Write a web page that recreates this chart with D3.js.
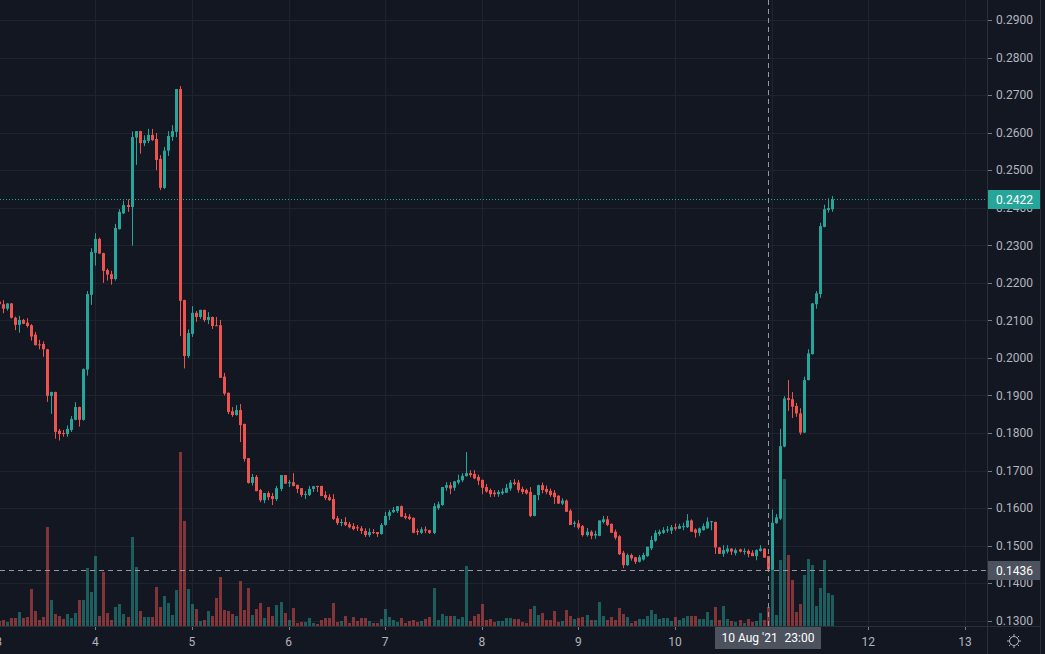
<!DOCTYPE html>
<html>
<head>
<meta charset="utf-8">
<script src="https://cdn.jsdelivr.net/npm/d3@7"></script>
<style>
  html, body { margin: 0; padding: 0; background: #131722; overflow: hidden; }
  svg { display: block; }
</style>
</head>
<body>
<svg id="chart" width="1045" height="654"></svg>
<script>
// hourly candles, 3 Aug 2021 00:00 UTC onwards
const opens = [
  0.2150,0.2143,0.2131,0.2145,0.2107,0.2088,0.2101,0.2094,0.2087,0.2062,0.2036,0.2037,0.2023,0.1899,0.1909,0.1806,0.1800,0.1797,0.1808,0.1835,
  0.1869,0.1835,0.1969,0.2168,0.2280,0.2317,0.2279,0.2234,0.2223,0.2210,0.2343,0.2385,0.2407,0.2402,0.2587,0.2604,0.2572,0.2578,0.2594,0.2583,
  0.2530,0.2453,0.2552,0.2589,0.2602,0.2716,0.2154,0.2005,0.2064,0.2120,0.2109,0.2128,0.2101,0.2109,0.2087,0.2087,0.1950,0.1907,0.1858,0.1848,
  0.1861,0.1824,0.1733,0.1667,0.1683,0.1648,0.1621,0.1640,0.1632,0.1624,0.1651,0.1688,0.1666,0.1669,0.1662,0.1653,0.1636,0.1635,0.1651,0.1659,
  0.1659,0.1635,0.1629,0.1624,0.1573,0.1560,0.1563,0.1557,0.1552,0.1549,0.1546,0.1539,0.1528,0.1536,0.1536,0.1531,0.1555,0.1579,0.1589,0.1592,
  0.1605,0.1579,0.1577,0.1574,0.1539,0.1534,0.1543,0.1541,0.1534,0.1600,0.1608,0.1654,0.1661,0.1654,0.1668,0.1674,0.1685,0.1693,0.1691,0.1683,
  0.1675,0.1656,0.1648,0.1641,0.1637,0.1639,0.1641,0.1652,0.1668,0.1668,0.1651,0.1648,0.1643,0.1579,0.1635,0.1661,0.1651,0.1646,0.1641,0.1633,
  0.1612,0.1620,0.1593,0.1558,0.1559,0.1552,0.1528,0.1537,0.1527,0.1526,0.1563,0.1570,0.1558,0.1537,0.1525,0.1481,0.1448,0.1475,0.1469,0.1457,
  0.1463,0.1472,0.1493,0.1513,0.1531,0.1534,0.1540,0.1540,0.1549,0.1545,0.1549,0.1549,0.1567,0.1543,0.1534,0.1541,0.1546,0.1563,0.1563,0.1495,
  0.1478,0.1484,0.1492,0.1480,0.1490,0.1485,0.1486,0.1481,0.1472,0.1486,0.1492,0.1472,0.1436,0.1560,0.1572,0.1764,0.1893,0.1890,0.1872,0.1852,
  0.1801,0.1941,0.2010,0.2143,0.2170,0.2349,0.2394,0.2396
];
const highs = [
  0.2155,0.2154,0.2146,0.2146,0.2110,0.2112,0.2104,0.2106,0.2090,0.2069,0.2048,0.2044,0.2024,0.1910,0.1910,0.1811,0.1808,0.1820,0.1845,0.1882,
  0.1870,0.1972,0.2178,0.2292,0.2332,0.2320,0.2280,0.2238,0.2232,0.2357,0.2396,0.2419,0.2422,0.2603,0.2604,0.2605,0.2593,0.2610,0.2610,0.2599,
  0.2540,0.2562,0.2604,0.2620,0.2716,0.2724,0.2155,0.2076,0.2138,0.2125,0.2128,0.2128,0.2122,0.2110,0.2109,0.2101,0.1960,0.1908,0.1869,0.1874,
  0.1877,0.1825,0.1733,0.1691,0.1688,0.1651,0.1640,0.1645,0.1640,0.1659,0.1688,0.1688,0.1675,0.1693,0.1662,0.1653,0.1645,0.1659,0.1659,0.1659,
  0.1659,0.1645,0.1637,0.1637,0.1579,0.1571,0.1576,0.1563,0.1560,0.1555,0.1552,0.1546,0.1546,0.1544,0.1536,0.1560,0.1590,0.1595,0.1603,0.1605,
  0.1607,0.1587,0.1584,0.1575,0.1545,0.1549,0.1551,0.1542,0.1613,0.1617,0.1656,0.1669,0.1669,0.1672,0.1689,0.1693,0.1749,0.1701,0.1701,0.1689,
  0.1676,0.1664,0.1652,0.1648,0.1648,0.1652,0.1664,0.1675,0.1677,0.1675,0.1657,0.1652,0.1656,0.1635,0.1662,0.1668,0.1660,0.1652,0.1648,0.1634,
  0.1626,0.1623,0.1597,0.1566,0.1568,0.1555,0.1547,0.1541,0.1540,0.1567,0.1579,0.1579,0.1559,0.1543,0.1528,0.1486,0.1479,0.1479,0.1470,0.1475,
  0.1481,0.1497,0.1526,0.1541,0.1543,0.1549,0.1552,0.1555,0.1559,0.1558,0.1561,0.1584,0.1570,0.1546,0.1548,0.1559,0.1575,0.1566,0.1564,0.1496,
  0.1501,0.1501,0.1493,0.1493,0.1492,0.1493,0.1490,0.1488,0.1490,0.1501,0.1493,0.1473,0.1596,0.1584,0.1811,0.1898,0.1941,0.1909,0.1880,0.1866,
  0.1950,0.2023,0.2146,0.2178,0.2360,0.2408,0.2425,0.2431
];
const lows = [
  0.2138,0.2119,0.2126,0.2105,0.2074,0.2067,0.2090,0.2081,0.2046,0.2033,0.2023,0.2003,0.1883,0.1851,0.1785,0.1780,0.1790,0.1790,0.1803,0.1834,
  0.1817,0.1833,0.1953,0.2141,0.2246,0.2277,0.2200,0.2206,0.2195,0.2206,0.2342,0.2383,0.2389,0.2299,0.2514,0.2544,0.2564,0.2572,0.2578,0.2500,
  0.2447,0.2450,0.2538,0.2578,0.2588,0.2058,0.1972,0.2000,0.2056,0.2096,0.2104,0.2096,0.2090,0.2077,0.2085,0.1947,0.1900,0.1850,0.1843,0.1846,
  0.1776,0.1724,0.1665,0.1660,0.1645,0.1616,0.1613,0.1621,0.1608,0.1619,0.1645,0.1665,0.1656,0.1658,0.1640,0.1630,0.1624,0.1632,0.1643,0.1643,
  0.1632,0.1621,0.1619,0.1568,0.1555,0.1552,0.1552,0.1546,0.1541,0.1539,0.1531,0.1523,0.1523,0.1531,0.1523,0.1529,0.1553,0.1568,0.1587,0.1587,
  0.1576,0.1570,0.1568,0.1533,0.1528,0.1531,0.1533,0.1531,0.1531,0.1595,0.1606,0.1646,0.1637,0.1646,0.1663,0.1669,0.1684,0.1682,0.1677,0.1661,
  0.1637,0.1641,0.1629,0.1630,0.1630,0.1635,0.1640,0.1646,0.1661,0.1641,0.1637,0.1636,0.1576,0.1578,0.1621,0.1639,0.1637,0.1630,0.1611,0.1611,
  0.1608,0.1590,0.1555,0.1549,0.1543,0.1524,0.1524,0.1517,0.1518,0.1525,0.1559,0.1552,0.1534,0.1516,0.1475,0.1440,0.1446,0.1460,0.1451,0.1455,
  0.1460,0.1470,0.1488,0.1510,0.1526,0.1531,0.1534,0.1531,0.1540,0.1544,0.1541,0.1547,0.1537,0.1521,0.1525,0.1540,0.1545,0.1541,0.1478,0.1478,
  0.1470,0.1479,0.1475,0.1474,0.1482,0.1476,0.1469,0.1472,0.1461,0.1484,0.1468,0.1436,0.1435,0.1558,0.1568,0.1762,0.1859,0.1840,0.1843,0.1795,
  0.1800,0.1940,0.2009,0.2131,0.2160,0.2348,0.2387,0.2389
];
const closes = [
  0.2143,0.2131,0.2145,0.2107,0.2088,0.2101,0.2091,0.2085,0.2057,0.2034,0.2035,0.2023,0.1899,0.1909,0.1803,0.1797,0.1799,0.1811,0.1837,0.1869,
  0.1835,0.1970,0.2170,0.2282,0.2317,0.2278,0.2232,0.2222,0.2210,0.2346,0.2389,0.2407,0.2402,0.2588,0.2604,0.2572,0.2580,0.2594,0.2580,0.2527,
  0.2453,0.2552,0.2591,0.2604,0.2716,0.2152,0.2005,0.2066,0.2120,0.2109,0.2128,0.2101,0.2109,0.2085,0.2086,0.1947,0.1905,0.1856,0.1848,0.1861,
  0.1821,0.1731,0.1667,0.1683,0.1645,0.1621,0.1640,0.1629,0.1624,0.1653,0.1688,0.1665,0.1669,0.1659,0.1651,0.1635,0.1638,0.1651,0.1658,0.1656,
  0.1632,0.1627,0.1621,0.1571,0.1560,0.1563,0.1555,0.1549,0.1544,0.1546,0.1539,0.1528,0.1536,0.1534,0.1531,0.1555,0.1579,0.1589,0.1595,0.1605,
  0.1577,0.1574,0.1571,0.1534,0.1536,0.1543,0.1540,0.1534,0.1605,0.1610,0.1656,0.1661,0.1652,0.1671,0.1675,0.1686,0.1693,0.1688,0.1679,0.1673,
  0.1654,0.1644,0.1637,0.1637,0.1643,0.1644,0.1654,0.1668,0.1664,0.1648,0.1643,0.1639,0.1579,0.1635,0.1661,0.1648,0.1643,0.1635,0.1629,0.1612,
  0.1620,0.1590,0.1555,0.1561,0.1548,0.1528,0.1537,0.1526,0.1531,0.1567,0.1570,0.1555,0.1534,0.1521,0.1477,0.1448,0.1475,0.1466,0.1457,0.1469,
  0.1475,0.1497,0.1515,0.1534,0.1537,0.1541,0.1543,0.1549,0.1545,0.1552,0.1552,0.1567,0.1537,0.1534,0.1546,0.1552,0.1564,0.1565,0.1495,0.1478,
  0.1488,0.1492,0.1484,0.1488,0.1484,0.1486,0.1478,0.1472,0.1488,0.1492,0.1468,0.1436,0.1561,0.1575,0.1765,0.1892,0.1888,0.1870,0.1852,0.1801,
  0.1941,0.2012,0.2145,0.2172,0.2351,0.2396,0.2399,0.2422
];
// volume, thousands
const volume = [
  5,6,4,8,8,14,8,9,37,15,6,9,99,26,12,10,7,12,8,13,
  26,26,58,34,70,10,54,13,6,19,22,12,9,89,59,15,9,9,9,39,
  19,30,23,11,36,174,105,37,22,17,5,6,15,10,28,49,16,15,12,10,
  45,16,38,11,17,23,8,19,10,21,24,13,6,18,3,4,4,8,3,2,
  6,8,8,23,4,5,10,3,9,5,8,8,5,3,3,7,17,9,6,4,
  8,3,5,6,4,5,7,9,38,6,12,10,10,10,7,9,60,5,10,12,
  22,6,7,4,5,5,8,8,7,7,4,3,17,20,11,13,6,6,15,4,
  5,16,10,7,8,9,11,6,6,24,10,6,9,6,18,12,9,3,5,7,
  7,10,16,12,7,8,8,5,9,6,8,10,10,10,7,7,14,6,19,6,
  20,7,5,4,6,3,7,4,5,13,6,19,80,11,66,147,71,46,14,22,
  51,67,61,20,38,66,33,31
];
const priceTicks = [0.13,0.14,0.15,0.16,0.17,0.18,0.19,0.20,0.21,0.22,0.23,0.24,0.25,0.26,0.27,0.28,0.29];
const dayTicks = [3,4,5,6,7,8,9,10,11,12,13];
const crossTime = new Date(Date.UTC(2021, 7, 10, 23));
const crossPrice = 0.1436;

const W = 1045, H = 654;
const plotR = 987, plotB = 626, edgeR = 1040;
const UP = "#26a69a", DOWN = "#ef5350";
const TEXT = "#b2b5be", GRID = "#1f232e", BORDER = "#2a2e39";
const FONT = "'Trebuchet MS', Roboto, sans-serif";

const start = new Date(Date.UTC(2021, 7, 3, 0));
const times = d3.utcHour.range(start, d3.utcHour.offset(start, closes.length));
const bars = closes.map((c, i) => ({ t: times[i], o: opens[i], h: highs[i], l: lows[i], c: c, v: volume[i] }));

const x = d3.scaleUtc()
    .domain([new Date(Date.UTC(2021, 7, 3)), new Date(Date.UTC(2021, 7, 13))])
    .range([-1.33, 965]);
const y = d3.scaleLinear().domain([0.13, 0.29]).range([620.7, 20]);
const vol = d3.scaleLinear().domain([0, d3.max(volume)]).range([0, 174]);

const svg = d3.select("#chart");
svg.append("rect").attr("width", W).attr("height", H).attr("fill", "#131722");

svg.append("defs").append("clipPath").attr("id", "plot")
    .append("rect").attr("width", plotR).attr("height", plotB);

// grid
const grid = svg.append("g").attr("clip-path", "url(#plot)");
grid.selectAll("line.h").data(priceTicks).join("line")
    .attr("class", "h")
    .attr("x1", 0).attr("x2", plotR)
    .attr("y1", d => Math.round(y(d)) + 0.5).attr("y2", d => Math.round(y(d)) + 0.5)
    .attr("stroke", GRID);
const dayDates = dayTicks.map(d => new Date(Date.UTC(2021, 7, d)));
grid.selectAll("line.v").data(dayDates).join("line")
    .attr("class", "v")
    .attr("x1", d => Math.round(x(d)) + 0.5).attr("x2", d => Math.round(x(d)) + 0.5)
    .attr("y1", 0).attr("y2", plotB)
    .attr("stroke", GRID);

const plot = svg.append("g").attr("clip-path", "url(#plot)");
const cx = d => Math.round(x(d.t));

// volume
plot.append("g").selectAll("rect").data(bars).join("rect")
    .attr("x", d => cx(d) - 1)
    .attr("width", 3)
    .attr("y", d => plotB - vol(d.v))
    .attr("height", d => vol(d.v))
    .attr("fill", d => d.c >= d.o ? UP : DOWN)
    .attr("fill-opacity", 0.5);

// candles
const candle = plot.append("g").selectAll("g").data(bars).join("g")
    .attr("fill", d => d.c >= d.o ? UP : DOWN);
candle.append("rect")
    .attr("x", d => cx(d))
    .attr("width", 1)
    .attr("y", d => y(d.h))
    .attr("height", d => Math.max(1, y(d.l) - y(d.h)));
candle.append("rect")
    .attr("x", d => cx(d) - 1)
    .attr("width", 3)
    .attr("y", d => y(Math.max(d.o, d.c)))
    .attr("height", d => Math.max(1, Math.abs(y(d.o) - y(d.c))));

// last price line
const last = bars[bars.length - 1];
const lastY = Math.round(y(last.c)) + 0.5;
svg.append("line")
    .attr("x1", 0).attr("x2", plotR).attr("y1", lastY).attr("y2", lastY)
    .attr("stroke", UP).attr("stroke-dasharray", "1,2");

// crosshair
const chX = Math.round(x(crossTime)) + 0.5;
const chY = Math.round(y(crossPrice)) + 0.5;
svg.append("line")
    .attr("x1", chX).attr("x2", chX).attr("y1", 0).attr("y2", plotB)
    .attr("stroke", "#9598a1").attr("stroke-dasharray", "5,4");
svg.append("line")
    .attr("x1", 0).attr("x2", plotR).attr("y1", chY).attr("y2", chY)
    .attr("stroke", "#9598a1").attr("stroke-dasharray", "5,4");

// axis borders
svg.append("line").attr("x1", plotR + 0.5).attr("x2", plotR + 0.5).attr("y1", 0).attr("y2", H).attr("stroke", BORDER);
svg.append("line").attr("x1", 0).attr("x2", edgeR).attr("y1", plotB + 0.5).attr("y2", plotB + 0.5).attr("stroke", BORDER);
svg.append("line").attr("x1", edgeR + 0.5).attr("x2", edgeR + 0.5).attr("y1", 0).attr("y2", H).attr("stroke", BORDER);

// price axis
const pAxis = svg.append("g").attr("font-family", FONT).attr("font-size", 12).attr("fill", TEXT);
pAxis.selectAll("line").data(priceTicks).join("line")
    .attr("x1", plotR + 1).attr("x2", plotR + 5)
    .attr("y1", d => Math.round(y(d)) + 0.5).attr("y2", d => Math.round(y(d)) + 0.5)
    .attr("stroke", "#787b86");
pAxis.selectAll("text").data(priceTicks).join("text")
    .attr("x", 996).attr("y", d => y(d)).attr("dy", "0.36em")
    .text(d => d3.format(".4f")(d));

// time axis (the label under the crosshair box is not drawn)
const hidden = d => Math.abs(x(d) - chX) < 60;
const tAxis = svg.append("g").attr("font-family", FONT).attr("font-size", 12).attr("fill", TEXT);
tAxis.selectAll("line").data(dayDates).join("line")
    .attr("x1", d => Math.round(x(d)) + 0.5).attr("x2", d => Math.round(x(d)) + 0.5)
    .attr("y1", plotB + 1).attr("y2", plotB + 4)
    .attr("stroke", "#787b86");
tAxis.selectAll("text").data(dayDates.filter(d => !hidden(d))).join("text")
    .attr("x", d => x(d)).attr("y", 642).attr("dy", "0.36em")
    .attr("text-anchor", "middle")
    .text(d3.utcFormat("%-d"));

// labels
function priceLabel(py, fill, txt) {
    svg.append("rect").attr("x", plotR + 1).attr("y", py - 9.5).attr("width", edgeR - plotR - 1).attr("height", 19).attr("fill", fill);
    svg.append("text").attr("x", 996).attr("y", py).attr("dy", "0.36em")
        .attr("font-family", FONT).attr("font-size", 12).attr("fill", "#ffffff")
        .text(txt);
}
priceLabel(lastY, UP, d3.format(".4f")(last.c));
priceLabel(chY, "#4c525e", d3.format(".4f")(crossPrice));

svg.append("rect").attr("x", chX - 53.5).attr("y", plotB + 1).attr("width", 106).attr("height", 22).attr("fill", "#4c525e");
const tl = svg.append("g").attr("font-family", FONT).attr("font-size", 12).attr("fill", "#ffffff");
tl.append("text").attr("x", chX - 47).attr("y", 638).attr("dy", "0.36em").text(d3.utcFormat("%-d %b '%y")(crossTime));
tl.append("text").attr("x", chX + 16).attr("y", 638).attr("dy", "0.36em").text(d3.utcFormat("%H:%M")(crossTime));

// auto-scale icon
const ic = svg.append("g").attr("transform", "translate(1014,641)").attr("stroke", TEXT).attr("fill", "none").attr("stroke-width", 1);
ic.append("circle").attr("r", 4.5);
ic.selectAll("line").data(d3.range(8)).join("line")
    .attr("x1", d => Math.cos(d * Math.PI / 4) * 5).attr("y1", d => Math.sin(d * Math.PI / 4) * 5)
    .attr("x2", d => Math.cos(d * Math.PI / 4) * 7).attr("y2", d => Math.sin(d * Math.PI / 4) * 7);
</script>
</body>
</html>
